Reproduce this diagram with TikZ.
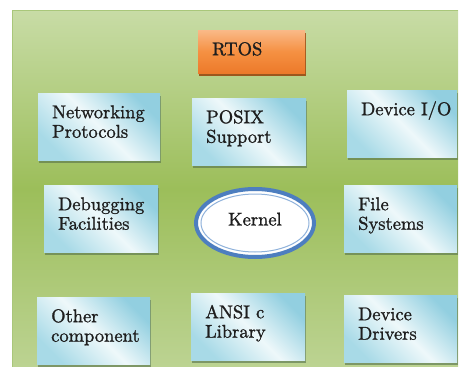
\documentclass[tikz,border=0pt]{standalone}
\usepackage{fontspec}
\setmainfont{lmroman10-regular}[Extension=.otf, FakeBold=1.2]
\usetikzlibrary{shadows,shapes.geometric}

\definecolor{fondhaut}{HTML}{C8DCA6}
\definecolor{fondmilieu}{HTML}{9CBE5A}
\definecolor{fondbas}{HTML}{BCD392}
\definecolor{bordvert}{HTML}{A9C77A}
\definecolor{bleucoin}{HTML}{92CFE0}
\definecolor{bleuclair}{HTML}{EEF8FA}
\definecolor{bleubas}{HTML}{A8DAE7}
\definecolor{orhaut}{HTML}{FAB987}
\definecolor{ormilieu}{HTML}{F59042}
\definecolor{orbas}{HTML}{EC7A2A}
\definecolor{brun}{HTML}{9A4A12}
\definecolor{ombre}{HTML}{55704A}
\definecolor{bleunoyau}{HTML}{4D7EBF}
\definecolor{bleutrait}{HTML}{8FB2DB}
\definecolor{encre}{HTML}{1E1E1E}

\begin{document}
\begin{tikzpicture}[x=1pt,y=-1pt, % une unité = un pixel de l'image, y vers le bas
  texte/.style={font=\fontsize{18.5}{19.5}\selectfont, text=encre, align=left,
    inner xsep=14pt, inner ysep=6pt, text height=19pt},
  bloc/.style={texte, anchor=north west, text width=#1, text depth=36pt,
    top color=bleucoin, bottom color=bleubas, middle color=bleuclair, shading angle=-45,
    drop shadow={shadow xshift=1pt, shadow yshift=-3pt, fill=ombre, opacity=.6}},
  bloc/.default=86pt,
  titre/.style={texte, anchor=north west, text width=79pt, text depth=12pt,
    top color=orhaut, bottom color=orbas, middle color=ormilieu,
    drop shadow={shadow xshift=1pt, shadow yshift=-3pt, fill=brun, opacity=.9}},
  noyau/.style={ellipse, draw=bleunoyau, line width=4pt, fill=white, inner sep=0pt,
    minimum width=118pt, minimum height=68pt, text height=13pt, text depth=8pt,
    font=\fontsize{18.5}{19.5}\selectfont, text=encre}]

\useasboundingbox (0,0) rectangle (459,367);
\fill[top color=fondhaut, bottom color=fondbas, middle color=fondmilieu] (12,10) rectangle (458,367);
\draw[bordvert, line width=.8pt] (12,367) -- (12,10) -- (458,10);

\node[titre] (rtos) at (198,30) {RTOS};

\node[bloc=94pt] (reseau) at (38,93) {Networking\\Protocols};
\node[bloc] (posix) at (192,98) {POSIX\\Support};
\node[bloc=82pt] (es) at (347,90) {Device~I/O};

\node[bloc] (debug) at (44,185) {Debugging\\Facilities};
\node[noyau] (kernel) at (255,223) {Kernel};
\draw[bleutrait, line width=1pt] (kernel.center) ellipse [x radius=54, y radius=29];
\node[bloc=85pt] (fichiers) at (344,185) {File\\Systems};

\node[bloc=85pt] (autre) at (37,297) {Other\\component};
\node[bloc] (ansi) at (191,293) {ANSI c\\Library};
\node[bloc=85pt] (pilotes) at (344,295) {Device\\Drivers};
\end{tikzpicture}
\end{document}
